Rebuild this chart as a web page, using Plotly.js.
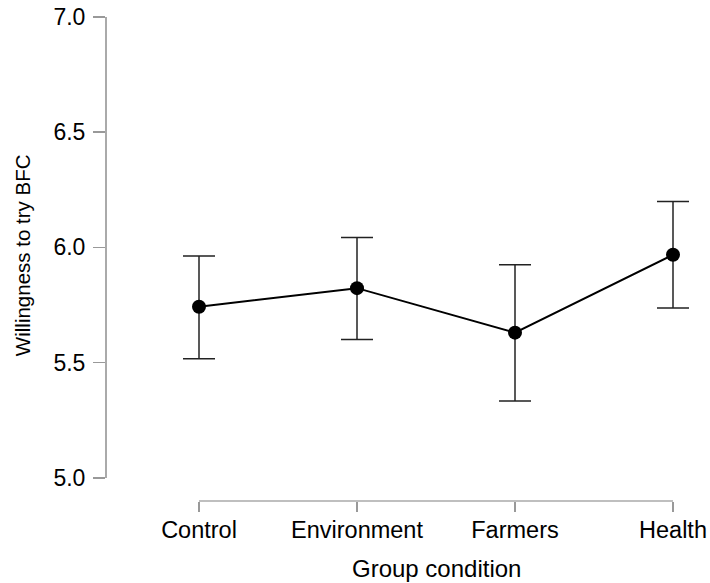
<!DOCTYPE html>
<html>
<head>
<meta charset="utf-8">
<script src="https://cdn.plot.ly/plotly-3.0.1.min.js"></script>
<style>html,body{margin:0;padding:0;background:#fff;}#chart{width:710px;height:583px;}</style>
</head>
<body>
<div id="chart"></div>
<script>
var categories = ["Control", "Environment", "Farmers", "Health"];
var means = [5.742, 5.823, 5.630, 5.968];
var upper = [5.963, 6.043, 5.925, 6.199];
var lower = [5.517, 5.600, 5.333, 5.737];
var yTicks = [5.0, 5.5, 6.0, 6.5, 7.0];
var yTickLabels = ["5.0", "5.5", "6.0", "6.5", "7.0"];
var xTitle = "Group condition";
var yTitle = "Willingness to try BFC";

var xIdx = categories.map(function(_, i){ return i; });
var errPlus = means.map(function(m, i){ return upper[i] - m; });
var errMinus = means.map(function(m, i){ return m - lower[i]; });

var trace = {
  x: xIdx,
  y: means,
  type: "scatter",
  mode: "lines+markers",
  line: {color: "#000", width: 2},
  marker: {color: "#000", size: 14},
  error_y: {type: "data", symmetric: false, array: errPlus, arrayminus: errMinus,
            color: "#222", thickness: 1.5, width: 16},
  cliponaxis: false,
  hoverinfo: "skip"
};

var fontFam = "Liberation Sans, Arial, sans-serif";
// plot area: x 105..705, 0 -> 199px, 3 -> 673px (158 px per unit)
var pxPerUnit = 158;
var xLeftVal = -(199 - 105) / pxPerUnit;
var xRightVal = 3 + (705 - 673) / pxPerUnit;

var layout = {
  width: 710, height: 583,
  margin: {l: 105, r: 5, t: 17, b: 82},
  paper_bgcolor: "#fff", plot_bgcolor: "#fff",
  showlegend: false,
  font: {family: fontFam, color: "#000", size: 22},
  xaxis: {
    range: [xLeftVal, xRightVal],
    anchor: "free", position: 0,
    tickvals: xIdx, ticktext: categories,
    showline: false,
    ticks: "outside", ticklen: 10, tickcolor: "#999", tickwidth: 1.5,
    ticklabelstandoff: -2,
    showgrid: false, zeroline: false,
    tickfont: {size: 23.5, color: "#000"}
  },
  yaxis: {
    domain: [0.048, 1],
    range: [5, 7],
    anchor: "free", position: 0,
    tickvals: yTicks, ticktext: yTickLabels,
    showline: true, linecolor: "#aaa", linewidth: 1.5,
    ticks: "outside", ticklen: 12, tickcolor: "#999", tickwidth: 1.5,
    ticklabelstandoff: 3,
    showgrid: false, zeroline: false,
    tickfont: {size: 23, color: "#000"}
  },
  shapes: [{
    type: "line", xref: "x", yref: "paper",
    x0: xIdx[0], x1: xIdx[xIdx.length - 1], y0: 0, y1: 0,
    line: {color: "#aaa", width: 1.5}
  }],
  annotations: [{
    text: yTitle, textangle: -90,
    xref: "paper", yref: "paper", x: 0, y: 0.508,
    xanchor: "center", yanchor: "middle", xshift: -83,
    showarrow: false, font: {size: 20.5, color: "#000"}
  }, {
    text: xTitle,
    xref: "x", yref: "paper", x: (xIdx[0] + xIdx[xIdx.length - 1]) / 2, y: 0,
    xanchor: "center", yanchor: "middle", yshift: -67,
    showarrow: false, font: {size: 24, color: "#000"}
  }]
};

Plotly.newPlot("chart", [trace], layout, {staticPlot: true, displayModeBar: false});
</script>
</body>
</html>
